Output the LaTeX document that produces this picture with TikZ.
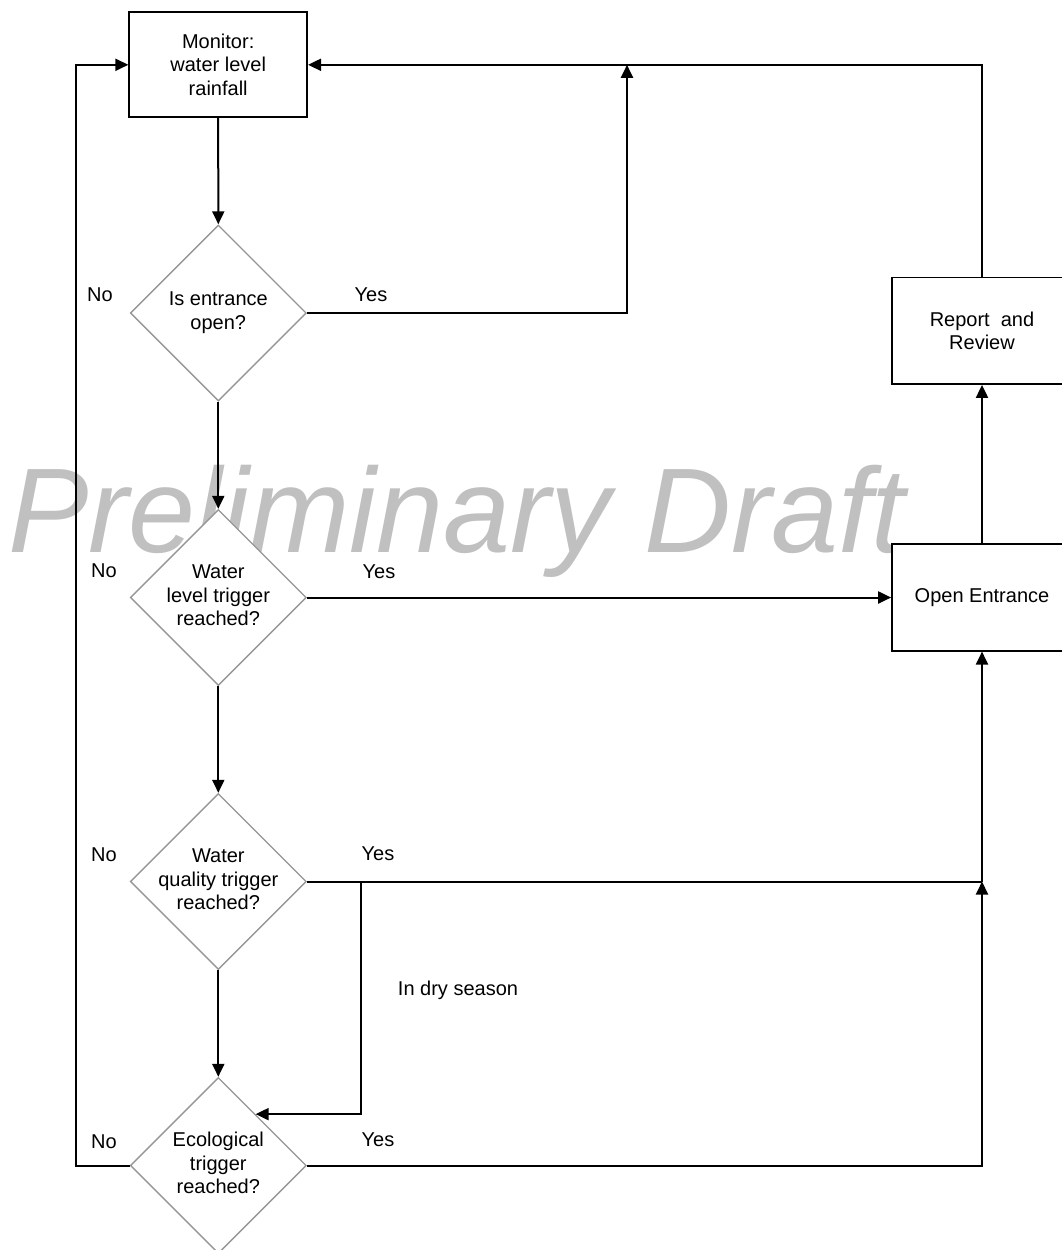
\documentclass[tikz,border=0pt]{standalone}
\usepackage{fontspec}
\setmainfont{Liberation Sans}
\usetikzlibrary{shapes.geometric,arrows.meta}
\definecolor{wmgray}{RGB}{192,192,192}
\definecolor{dgray}{RGB}{150,150,150}
\newcommand{\dtxt}[1]{\makebox[0pt]{\begin{tabular}{@{}c@{}}#1\end{tabular}}}
\begin{document}
\begin{tikzpicture}[x=1pt,y=-1pt,
  conn/.style={line width=2pt,-{Triangle[length=13pt,width=12pt]}},
  plainline/.style={line width=2pt},
  txt/.style={font=\fontsize{20}{23.5}\selectfont},
  box/.style={txt,draw,line width=1.7pt,fill=white,minimum width=178pt,minimum height=105pt,align=center,inner sep=0pt},
  dec/.style={txt,diamond,aspect=1,draw=dgray,line width=1.4pt,fill=white,minimum width=176pt,minimum height=176pt,inner sep=0pt},
  lbl/.style={txt,anchor=base,inner sep=0pt}]
\useasboundingbox (0,0) rectangle (1061,1250);
% watermark
\node[anchor=base west,inner sep=0pt,text=wmgray,font=\fontsize{120.5}{120}\selectfont\itshape] (wm) at (8,552) {Preliminary Draft};
% nodes
\node[box] (mon) at (218.2,64.8) {Monitor:\\water level\\rainfall};
\node[dec] (d1) at (218.3,313) {\dtxt{Is entrance\\open?}};
\node[dec] (d2) at (218.3,597.5) {\dtxt{Water\\level trigger\\reached?}};
\node[dec] (d3) at (218.3,881.5) {\dtxt{Water\\quality trigger\\reached?}};
\node[dec] (d4) at (218.3,1165.5) {\dtxt{Ecological\\trigger\\reached?}};
\node[box,minimum width=180pt,minimum height=106.7pt] (rr) at (982,330.7) {Report\ \ and\\Review};
\node[box,minimum width=180pt,minimum height=106.4pt] (oe) at (982,597.5) {Open Entrance};
% labels
\node[lbl] (no1) at (100,301) {No};
\node[lbl] (no2) at (104,577) {No};
\node[lbl] (no3) at (104,861) {No};
\node[lbl] (no4) at (104,1148) {No};
\node[lbl] (yes1) at (371,301.7) {Yes};
\node[lbl] (yes2) at (379,578) {Yes};
\node[lbl] (yes3) at (378,860.7) {Yes};
\node[lbl] (yes4) at (378,1146.7) {Yes};
\node[lbl] (dry) at (458,995) {In dry season};
% coordinates
\coordinate (j1) at (627,64.8);
\coordinate (lft) at (76,1165.5);
\coordinate (b1) at (361,881.5);
\coordinate (c2) at (982,881.5);
% connectors
\draw[conn] (mon.south) -- (d1.north);
\draw[conn] (d1.south) -- (d2.north);
\draw[conn] (d2.south) -- (d3.north);
\draw[conn] (d3.south) -- (d4.north);
\draw[conn] (d1.east) -| (j1);
\draw[conn] (rr.north) |- (mon.east);
\draw[conn] (d4.west) -- (lft) |- (mon.west);
\draw[conn] (d2.east) -- (oe.west);
\draw[plainline] (d3.east) -- (c2);
\draw[conn] (b1) |- (d4.54.7);
\draw[conn] (d4.east) -| (c2);
\draw[conn] (c2) -- (oe.south);
\draw[conn] (oe.north) -- (rr.south);
\end{tikzpicture}
\end{document}
